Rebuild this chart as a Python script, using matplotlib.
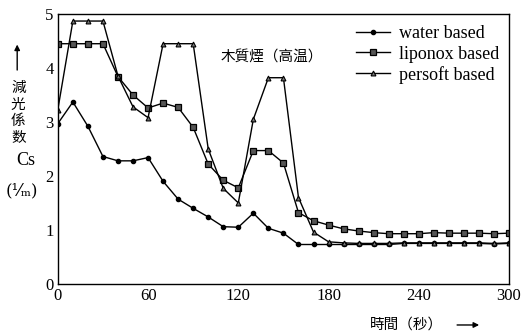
import matplotlib
matplotlib.use("Agg")
import matplotlib.pyplot as plt

plt.rcParams['font.family'] = ['Liberation Serif', 'Noto Sans CJK TC', 'DejaVu Sans']

# time (s)
t = [0, 10, 20, 30, 40, 50, 60, 70, 80, 90, 100, 110, 120, 130, 140, 150,
     160, 170, 180, 190, 200, 210, 220, 230, 240, 250, 260, 270, 280, 290, 300]

water = [2.97, 3.37, 2.92, 2.36, 2.28, 2.28, 2.34, 1.90, 1.57, 1.40, 1.24, 1.06, 1.05,
         1.31, 1.03, 0.94, 0.73, 0.73, 0.73, 0.73, 0.73, 0.73, 0.73, 0.75, 0.75,
         0.75, 0.75, 0.75, 0.75, 0.74, 0.75]
liponox = [4.45, 4.45, 4.45, 4.45, 3.84, 3.50, 3.26, 3.35, 3.27, 2.90, 2.22, 1.92, 1.78,
           2.47, 2.47, 2.24, 1.32, 1.17, 1.09, 1.02, 0.98, 0.95, 0.93, 0.93, 0.93,
           0.95, 0.94, 0.94, 0.94, 0.93, 0.94]
persoft = [3.23, 4.87, 4.87, 4.87, 3.85, 3.28, 3.08, 4.45, 4.45, 4.45, 2.50, 1.77, 1.50,
           3.05, 3.82, 3.82, 1.60, 0.96, 0.78, 0.76, 0.75, 0.75, 0.75, 0.76, 0.76,
           0.76, 0.76, 0.76, 0.76, 0.75, 0.76]

xticks = [0, 60, 120, 180, 240, 300]
yticks = [0, 1, 2, 3, 4, 5]

fig = plt.figure(figsize=(5.21, 3.34), dpi=100)
ax = fig.add_axes([0.111, 0.15, 0.866, 0.808])

ax.plot(t, water, '-', color='black', lw=1.0, marker='o', ms=3, mfc='black',
        label='water based')
ax.plot(t, liponox, '-', color='black', lw=1.0, marker='s', ms=4, mfc='#555555',
        mew=0.9, label='liponox based')
ax.plot(t, persoft, '-', color='black', lw=1.0, marker='^', ms=3.5, mfc='#777777',
        mew=0.8, label='persoft based')

ax.set_xlim(0, 300)
ax.set_ylim(0, 5)
ax.set_xticks(xticks)
ax.set_yticks(yticks)
ax.tick_params(length=0, labelsize=12, pad=3)
for s in ax.spines.values():
    s.set_linewidth(1.0)

ax.legend(loc='upper right', frameon=False, fontsize=13, handlelength=1.9,
          handletextpad=0.5, labelspacing=0.18, borderaxespad=0.0,
          bbox_to_anchor=(0.995, 0.985))

ax.text(108, 4.2, '木質煙（高温）', fontsize=10.5, family=['Noto Sans CJK TC'],
        va='center', ha='left')

# y axis label pieces
ax.annotate('', xy=(0.033, 0.875), xytext=(0.033, 0.782),
            xycoords='figure fraction', textcoords='figure fraction',
            arrowprops=dict(arrowstyle='-|>', color='black', lw=1.0,
                            mutation_scale=8))
for i, ch in enumerate('減光係数'):
    fig.text(0.035, 0.737 - i * 0.05, ch, fontsize=10.5, ha='center',
             va='center', family=['Noto Sans CJK TC'])
fig.text(0.05, 0.52, 'Cs', fontsize=13, ha='center', va='center')
fig.text(0.042, 0.43, '(¹⁄ₘ)', fontsize=12, ha='center', va='center',
         family=['DejaVu Serif'])

fig.text(0.71, 0.027, '時間（秒）', fontsize=10.5, ha='left', va='center',
         family=['Noto Sans CJK TC'])
ax.annotate('', xy=(0.925, 0.027), xytext=(0.872, 0.027),
            xycoords='figure fraction', textcoords='figure fraction',
            arrowprops=dict(arrowstyle='-|>', color='black', lw=1.0,
                            mutation_scale=8))

fig.savefig('out.png', dpi=100)
